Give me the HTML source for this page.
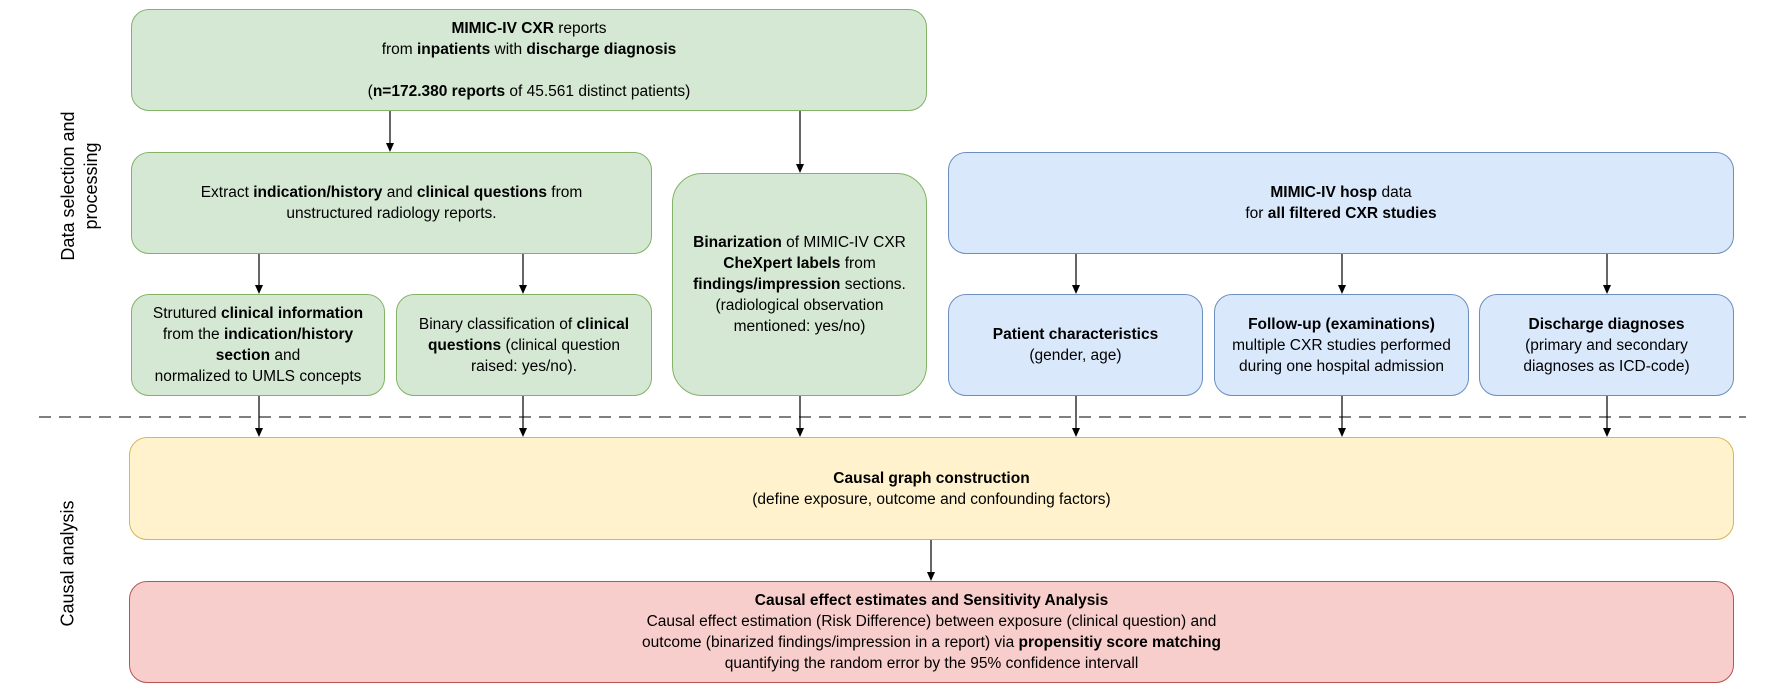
<!DOCTYPE html>
<html><head><meta charset="utf-8"><style>
body{margin:0;width:1768px;height:694px;background:#fff;position:relative;overflow:hidden;font-family:"Liberation Sans",Arial,sans-serif;font-size:15.5px;line-height:21px;color:#000}
.b{position:absolute;box-sizing:border-box;border-radius:18px;display:flex;align-items:center;justify-content:center;text-align:center;padding:4px 6px}
.g{background:#d5e8d4;border:1.3px solid #82b366}
.bl{background:#dae8fc;border:1.3px solid #6c8ebf}
.y{background:#fff2cc;border:1.3px solid #d6b656}
.r{background:#f8cecc;border:1.3px solid #b85450}
.side{position:absolute;transform:rotate(-90deg);transform-origin:center;text-align:center;font-size:18px;line-height:23px;white-space:nowrap}
svg{position:absolute;left:0;top:0}
</style></head><body>
<svg width="1768" height="694">
<defs><marker id="a" markerWidth="8" markerHeight="9" refX="4" refY="8" orient="auto" markerUnits="userSpaceOnUse"><path d="M0,0 L8,0 L4,9z" fill="#000" transform="rotate(0)"/></marker></defs>
<line x1="39" y1="417" x2="1746" y2="417" stroke="#333" stroke-width="1.2" stroke-dasharray="12,8"/>
<g stroke="#000" stroke-width="1.2">
<path d="M390 111V144"/><path d="M800 111V165"/>
<path d="M259 254V286"/><path d="M523 254V286"/>
<path d="M1076 254V286"/><path d="M1342 254V286"/><path d="M1607 254V286"/>
<path d="M259 396V429"/><path d="M523 396V429"/><path d="M800 396V429"/><path d="M1076 396V429"/><path d="M1342 396V429"/><path d="M1607 396V429"/>
<path d="M931 540V573"/>
</g>
<g fill="#000">
<path d="M386 143h8l-4 9z"/><path d="M796 164h8l-4 9z"/>
<path d="M255 285h8l-4 9z"/><path d="M519 285h8l-4 9z"/>
<path d="M1072 285h8l-4 9z"/><path d="M1338 285h8l-4 9z"/><path d="M1603 285h8l-4 9z"/>
<path d="M255 428h8l-4 9z"/><path d="M519 428h8l-4 9z"/><path d="M796 428h8l-4 9z"/><path d="M1072 428h8l-4 9z"/><path d="M1338 428h8l-4 9z"/><path d="M1603 428h8l-4 9z"/>
<path d="M927 572h8l-4 9z"/>
</g>
</svg>
<div class="side" style="left:-40px;top:163px;width:240px">Data selection and<br>processing</div>
<div class="side" style="left:-12px;top:552px;width:160px">Causal analysis</div>

<div class="b g" style="left:131px;top:9px;width:796px;height:102px"><div><b>MIMIC-IV CXR</b> reports<br>from <b>inpatients</b> with <b>discharge diagnosis</b><br><br>(<b>n=172.380 reports</b> of 45.561 distinct patients)</div></div>
<div class="b g" style="left:131px;top:152px;width:521px;height:102px"><div>Extract <b>indication/history</b> and <b>clinical questions</b> from<br>unstructured radiology reports.</div></div>
<div class="b g" style="left:672px;top:173px;width:255px;height:223px;border-radius:30px"><div><b>Binarization</b> of MIMIC-IV CXR<br><b>CheXpert labels</b> from<br><b>findings/impression</b> sections.<br>(radiological observation<br>mentioned: yes/no)</div></div>
<div class="b bl" style="left:948px;top:152px;width:786px;height:102px"><div><b>MIMIC-IV hosp</b> data<br>for <b>all filtered CXR studies</b></div></div>
<div class="b g" style="left:131px;top:294px;width:254px;height:102px"><div>Strutured <b>clinical information</b><br>from the <b>indication/history<br>section</b> and<br>normalized to UMLS concepts</div></div>
<div class="b g" style="left:396px;top:294px;width:256px;height:102px"><div>Binary classification of <b>clinical questions</b> (clinical question raised: yes/no).</div></div>
<div class="b bl" style="left:948px;top:294px;width:255px;height:102px"><div><b>Patient characteristics</b><br>(gender, age)</div></div>
<div class="b bl" style="left:1214px;top:294px;width:255px;height:102px"><div><b>Follow-up (examinations)</b><br>multiple CXR studies performed<br>during one hospital admission</div></div>
<div class="b bl" style="left:1479px;top:294px;width:255px;height:102px"><div><b>Discharge diagnoses</b><br>(primary and secondary<br>diagnoses as ICD-code)</div></div>
<div class="b y" style="left:129px;top:437px;width:1605px;height:103px"><div><b>Causal graph construction</b><br>(define exposure, outcome and confounding factors)</div></div>
<div class="b r" style="left:129px;top:581px;width:1605px;height:102px"><div><b>Causal effect estimates and Sensitivity Analysis</b><br>Causal effect estimation (Risk Difference) between exposure (clinical question) and<br>outcome (binarized findings/impression in a report) via <b>propensitiy score matching</b><br>quantifying the random error by the 95% confidence intervall</div></div>
</body></html>
